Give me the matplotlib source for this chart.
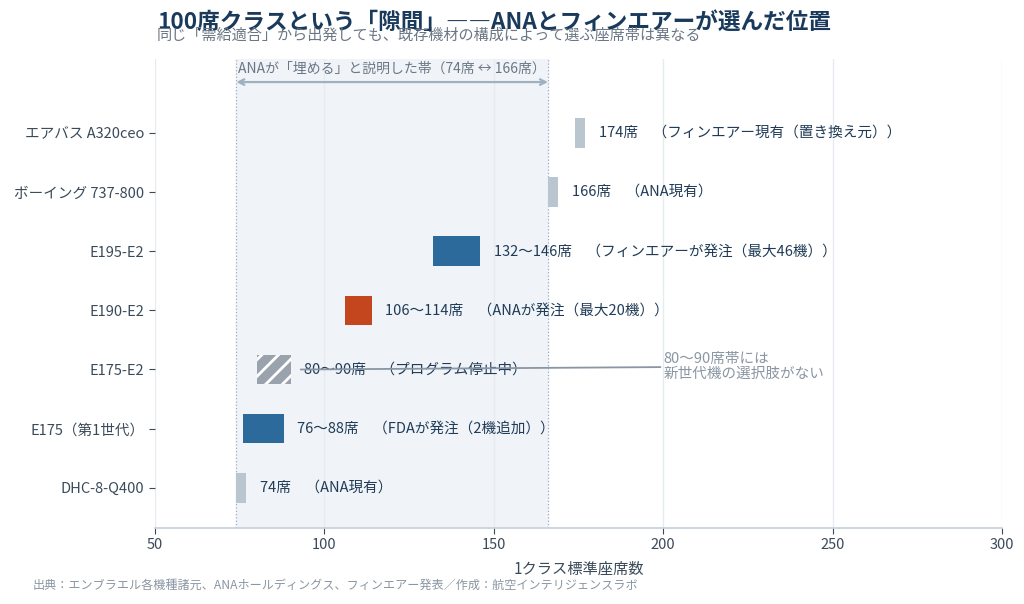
import numpy as np
import matplotlib
matplotlib.use('Agg')
import matplotlib.pyplot as plt

plt.rcParams['font.family'] = ['Noto Sans CJK JP', 'DejaVu Sans']
plt.rcParams['hatch.linewidth'] = 2.0

# データ（下から上へ）
aircraft = ['DHC-8-Q400', 'E175（第1世代）', 'E175-E2', 'E190-E2', 'E195-E2',
            'ボーイング 737-800', 'エアバス A320ceo']
seat_low = [74, 76, 80, 106, 132, 166, 174]
seat_high = [74, 88, 90, 114, 146, 166, 174]
notes = ['74席　（ANA現有）', '76〜88席　（FDAが発注（2機追加））', '80〜90席　（プログラム停止中）',
         '106〜114席　（ANAが発注（最大20機））', '132〜146席　（フィンエアーが発注（最大46機））',
         '166席　（ANA現有）', '174席　（フィンエアー現有（置き換え元））']
kinds = ['current', 'order', 'stopped', 'ana', 'order', 'current', 'current']
band = (74, 166)

colors = {'current': '#b9c5cf', 'order': '#2d6a9c', 'ana': '#c4461f', 'stopped': '#9aa3ad'}

fig = plt.figure(figsize=(10.24, 6.04), dpi=100)
ax = fig.add_axes([155/1024, 1-528/604, (1002-155)/1024, (528-59)/604])

ax.axvspan(band[0], band[1], color='#f0f4f8', zorder=0)
for b in band:
    ax.axvline(b, color='#9fb0c0', lw=0.9, ls=':', zorder=1)

y = np.arange(len(aircraft))
for i in range(len(aircraft)):
    w = seat_high[i] - seat_low[i]
    if w == 0:
        w = 3
    if kinds[i] == 'stopped':
        ax.barh(y[i], w, left=seat_low[i], height=0.5, color=colors['stopped'],
                hatch='//', edgecolor='white', lw=0, zorder=3)
    else:
        ax.barh(y[i], w, left=seat_low[i], height=0.5, color=colors[kinds[i]], zorder=3)
    ax.text(seat_low[i] + w + 4, y[i], notes[i], va='center', ha='left',
            fontsize=10.5, color='#1f3b57', zorder=4)

ax.annotate('80〜90席帯には\n新世代機の選択肢がない', xy=(93, 2.0), xytext=(200, 2.05),
            fontsize=10.5, color='#8a96a3', va='center', ha='left', linespacing=1.1,
            arrowprops=dict(arrowstyle='-', color='#8a96a3', lw=1.3, shrinkA=0, shrinkB=0),
            zorder=5)

ax.annotate('', xy=(band[0], 6.86), xytext=(band[1], 6.86),
            arrowprops=dict(arrowstyle='<->', color='#9fb0c0', lw=1.6, shrinkA=0, shrinkB=0))
ax.text((band[0] + band[1]) / 2, 7.08, 'ANAが「埋める」と説明した帯（74席 ↔ 166席）',
        ha='center', va='center', fontsize=10, color='#6b7785')

ax.set_xlim(50, 300)
ax.set_ylim(-0.68, 7.25)
ax.set_yticks(y)
ax.set_yticklabels(aircraft, fontsize=10.5, color='#3b4a5a')
ax.set_xticks([50, 100, 150, 200, 250, 300])
ax.tick_params(axis='x', labelsize=10.5, colors='#3b4a5a', color='#3b4a5a', length=4)
ax.tick_params(axis='y', color='#3b4a5a', length=4)
ax.set_xlabel('1クラス標準座席数', fontsize=11, color='#3b4a5a', labelpad=6)
ax.grid(axis='x', color='#e6ebf0', lw=1, zorder=0)
ax.set_axisbelow(True)
for s in ['top', 'right', 'left']:
    ax.spines[s].set_visible(False)
ax.spines['bottom'].set_color('#c5d0da')
ax.spines['bottom'].set_linewidth(1.2)

fig.text(157/1024, 1-22/604, '100席クラスという「隙間」――ANAとフィンエアーが選んだ位置',
         fontsize=16.3, fontweight='bold', color='#1a3a5c', va='center', ha='left')
fig.text(157/1024, 1-35/604, '同じ「需給適合」から出発しても、既存機材の構成によって選ぶ座席帯は異なる',
         fontsize=10.9, color='#6b7785', va='center', ha='left')
fig.text(33/1024, 1-585/604, '出典：エンブラエル各機種諸元、ANAホールディングス、フィンエアー発表／作成：航空インテリジェンスラボ',
         fontsize=8.7, color='#8a96a3', va='center', ha='left')

fig.savefig('out.png', dpi=100)
